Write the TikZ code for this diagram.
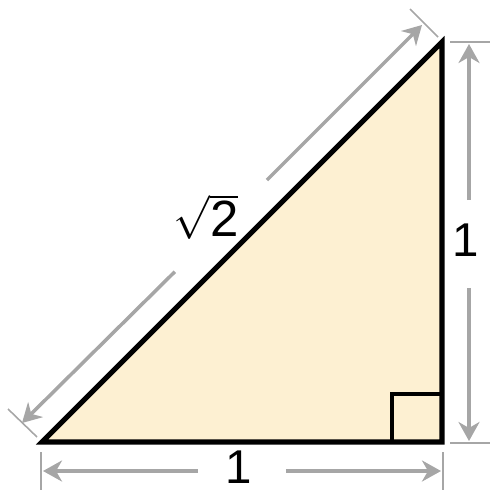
\documentclass[tikz,border=0pt]{standalone}
\usepackage{fontspec}
\setmainfont{Liberation Sans}
\usetikzlibrary{arrows.meta}

\definecolor{triFill}{HTML}{FDF0D2}
\definecolor{dimGray}{HTML}{A6A6A6}

\tikzset{
  dimline/.style={draw=dimGray, line width=2pt,
    -{Stealth[length=0.38cm, width=0.42cm, inset=0.12cm]}},
  extline/.style={draw=dimGray, line width=0.9pt},
  dimlabel/.style={font=\fontsize{27}{30}\selectfont, inner sep=0pt}
}

\begin{document}
\begin{tikzpicture}[x=0.02cm, y=-0.02cm]
\useasboundingbox (0,0) rectangle (500,500);

\coordinate (A) at (42,442);
\coordinate (B) at (442,442);
\coordinate (C) at (442,42);

% triangle
\draw[fill=triFill, line width=2.9pt, line join=miter] (A) -- (B) -- (C) -- cycle;
\draw[line width=2.3pt] (392,442) -- (392,394) -- (442,394);

% bottom
\draw[extline] (41,452) -- (41,490);
\draw[extline] (443,452) -- (443,490);
\coordinate (bl) at (43,471);
\coordinate (br) at (441,471);
\coordinate (bm) at (242,471);
\draw[dimline, shorten <=0.88cm] (bm) -- (bl);
\draw[dimline, shorten <=0.88cm] (bm) -- (br);
\node[dimlabel] (lb) at (239,467) {1};

% right
\draw[extline] (450,42) -- (490,42);
\draw[extline] (450,443) -- (490,443);
\coordinate (rt) at (469,44);
\coordinate (rb) at (469,441);
\coordinate (rm) at (469,244);
\draw[dimline, shorten <=0.88cm] (rm) -- (rt);
\draw[dimline, shorten <=0.88cm] (rm) -- (rb);
\node[dimlabel] (lr) at (466,240) {1};

% hypotenuse
\draw[extline] (37,437) -- (8,409);
\draw[extline] (438,37) -- (410,9);
\coordinate (hl) at (22,423);
\coordinate (hu) at (422,25);
\coordinate (hm) at (221,226);
\draw[dimline, shorten <=1.3cm] (hm) -- (hl);
\draw[dimline, shorten <=1.3cm] (hm) -- (hu);
\node[dimlabel, font=\fontsize{29}{32}\selectfont] (lh) at (206,217) {$\sqrt{\hbox{2}}$};

\end{tikzpicture}
\end{document}
